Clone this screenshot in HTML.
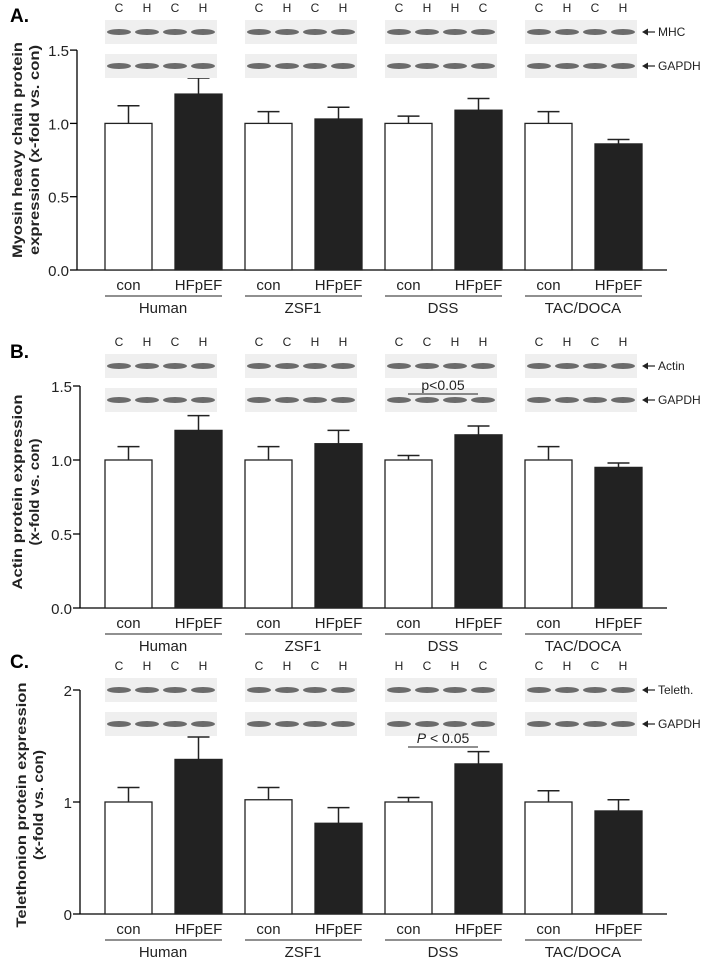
<!DOCTYPE html>
<html><head><meta charset="utf-8"><style>
body{margin:0;background:#fff;}
svg{display:block;font-family:"Liberation Sans",sans-serif;}
</style></head><body>
<svg id="fig" width="709" height="957" viewBox="0 0 709 957"></svg>
<script>
const groups = ["Human","ZSF1","DSS","TAC/DOCA"];
const conditions = ["con","HFpEF"];
const valuesA = [1.0,1.2,1.0,1.03,1.0,1.09,1.0,0.86];
const errorsA = [0.12,0.11,0.08,0.08,0.05,0.08,0.08,0.03];
const valuesB = [1.0,1.2,1.0,1.11,1.0,1.17,1.0,0.95];
const errorsB = [0.09,0.1,0.09,0.09,0.03,0.06,0.09,0.03];
const valuesC = [1.0,1.38,1.02,0.81,1.0,1.34,1.0,0.92];
const errorsC = [0.13,0.2,0.11,0.14,0.04,0.11,0.1,0.1];
const ticksA = ["0.0","0.5","1.0","1.5"];
const ticksB = ["0.0","0.5","1.0","1.5"];
const ticksC = ["0","1","2"];
const lanesA = [["C","H","C","H"],["C","H","C","H"],["C","H","H","C"],["C","H","C","H"]];
const lanesB = [["C","H","C","H"],["C","C","H","H"],["C","C","H","H"],["C","H","C","H"]];
const lanesC = [["C","H","C","H"],["C","H","C","H"],["H","C","H","C"],["C","H","C","H"]];

const NS="http://www.w3.org/2000/svg";
const svg=document.getElementById('fig');
function mk(tag,attrs,parent,text){const e=document.createElementNS(NS,tag);for(const k in attrs)e.setAttribute(k,attrs[k]);if(text!==undefined)e.textContent=text;(parent||svg).appendChild(e);return e;}

function panel(cfg){
  const g=mk('g',{});
  
  
  const y=v=>cfg.y0-(v/cfg.unit)*cfg.unitPx;
  const barX=i=>105+Math.floor(i/2)*140+(i%2)*70;
  const bw=47;
  const pl=mk('text',{x:10,y:cfg.labelY,'font-size':19,'font-weight':'bold'},g,cfg.id+'.');
  
  
  const yt=mk('text',{transform:`translate(${cfg.titleX},${cfg.titleY}) rotate(-90)`,'text-anchor':'middle','font-size':14,'font-weight':'bold',fill:'#222'},g);
  
  
  mk('tspan',{x:0,dy:0,textLength:cfg.tl[0],lengthAdjust:'spacingAndGlyphs'},yt,cfg.title[0]);
  mk('tspan',{x:0,dy:17,textLength:cfg.tl[1],lengthAdjust:'spacingAndGlyphs'},yt,cfg.title[1]);
  const ax=mk('line',{x1:cfg.ax,y1:y(cfg.max),x2:cfg.ax,y2:cfg.y0,stroke:'#000','stroke-width':1.3},g);
  
  
  const xa=mk('line',{x1:cfg.ax,y1:cfg.y0,x2:667,y2:cfg.y0,stroke:'#000','stroke-width':1.3},g);
  
  
  cfg.ticks.forEach(t=>{
    const v=parseFloat(t);
    mk('line',{x1:cfg.ax-7,y1:y(v),x2:cfg.ax,y2:y(v),stroke:'#000','stroke-width':1.3},g);
    const tl=mk('text',{x:cfg.ax-8,y:y(v)+6,'text-anchor':'end','font-size':15,fill:'#222'},g,t);
    
    
  });
  cfg.values.forEach((v,i)=>{
    const x=barX(i);
    const e=cfg.errors[i];
    const el=mk('line',{x1:x+bw/2,y1:y(v),x2:x+bw/2,y2:y(v+e),stroke:'#222','stroke-width':1.5},g);
    
    
    mk('line',{x1:x+bw/2-11,y1:y(v+e),x2:x+bw/2+11,y2:y(v+e),stroke:'#222','stroke-width':1.5},g);
    const r=mk('rect',{x:x,y:y(v),width:bw,height:cfg.y0-y(v),fill:i%2?'#222':'#fff',stroke:'#222','stroke-width':1.3},g);
    
    
  });
  groups.forEach((gn,gi)=>{
    const x0=105+gi*140;
    conditions.forEach((c,ci)=>{
      const t=mk('text',{x:x0+ci*70+bw/2,y:cfg.y0+20,'text-anchor':'middle','font-size':15,fill:'#222'},g,c);
      
      
    });
    mk('line',{x1:x0,y1:cfg.y0+26,x2:x0+117,y2:cfg.y0+26,stroke:'#222','stroke-width':1},g);
    const gl=mk('text',{x:x0+58,y:cfg.y0+43,'text-anchor':'middle','font-size':15,fill:'#222'},g,gn);
    
    
  });
  groups.forEach((gn,gi)=>{
    const x0=105+gi*140;
    const bg=mk('g',{},g);
    
    
    cfg.lanes[gi].forEach((l,li)=>{
      mk('text',{x:x0+14+li*28,y:cfg.blotY-8,'text-anchor':'middle','font-size':12,fill:'#222'},bg,l);
    });
    [0,1].forEach(row=>{
      const sy=cfg.blotY+row*34;
      mk('rect',{x:x0,y:sy,width:112,height:24,fill:'#efefef'},bg);
      for(let li=0;li<4;li++){
        mk('ellipse',{cx:x0+14+li*28,cy:sy+12,rx:12,ry:3,fill:'#333',opacity:0.7},bg);
      }
    });
  });
  cfg.blotNames.forEach((n,ri)=>{
    const yy=cfg.blotY+12+ri*34;
    mk('line',{x1:646,y1:yy,x2:655,y2:yy,stroke:'#222','stroke-width':1.2},g);
    mk('polygon',{points:`642,${yy} 648,${yy-3.5} 648,${yy+3.5}`,fill:'#222'},g);
    const bl=mk('text',{x:658,y:yy+4,'font-size':12,fill:'#222'},g,n);
    
    
  });
  if(cfg.sig){
    const sl=mk('line',{x1:408,y1:cfg.sig.y,x2:478,y2:cfg.sig.y,stroke:'#222','stroke-width':1},g);
    
    
    const st=mk('text',{x:443,y:cfg.sig.y-4,'text-anchor':'middle','font-size':14,fill:'#222'},g);
    
    
    if(cfg.sig.italic){mk('tspan',{'font-style':'italic'},st,'P');mk('tspan',{},st,' < 0.05');}
    else st.textContent='p<0.05';
  }
}
panel({id:'A',labelY:22,title:['Myosin heavy chain protein','expression (x-fold vs. con)'],tl:[216,210],titleX:22,titleY:150,
  ax:77,y0:270,unit:0.5,unitPx:73.3,max:1.5,ticks:ticksA,values:valuesA,errors:errorsA,lanes:lanesA,blotY:20,blotNames:['MHC','GAPDH']});
panel({id:'B',labelY:358,title:['Actin protein  expression','(x-fold vs. con)'],tl:[195,107],titleX:22,titleY:492,
  ax:80,y0:608,unit:0.5,unitPx:74,max:1.5,ticks:ticksB,values:valuesB,errors:errorsB,lanes:lanesB,blotY:354,blotNames:['Actin','GAPDH'],sig:{y:394,italic:false}});
panel({id:'C',labelY:668,title:['Telethonion protein  expression','(x-fold vs. con)'],tl:[245,110],titleX:26,titleY:805,
  ax:80,y0:914,unit:1,unitPx:112,max:2,ticks:ticksC,values:valuesC,errors:errorsC,lanes:lanesC,blotY:678,blotNames:['Teleth.','GAPDH'],sig:{y:747,italic:true}});
</script>
</body></html>
